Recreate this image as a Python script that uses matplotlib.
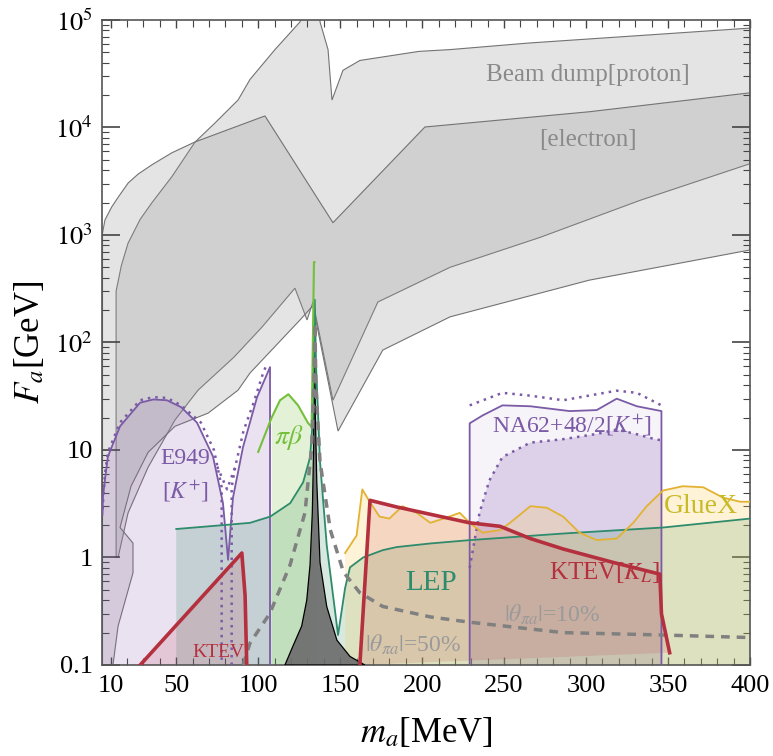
import matplotlib
matplotlib.use("Agg")
import matplotlib.pyplot as plt
from matplotlib.ticker import FixedLocator, MultipleLocator, LogLocator, NullFormatter

plt.rcParams['font.family'] = ['Liberation Serif', 'DejaVu Serif']
plt.rcParams['mathtext.fontset'] = 'stix'

# ---------------------------------------------------------------
# data  (m_a in MeV, F_a in GeV)

# beam dump, proton: upper and lower edges
bdp_up_m = [13.3, 16.5, 20.6, 28, 35.2, 47.4, 61.4, 73.6, 87.7, 95, 110.2, 125.5, 129, 137, 137.7, 142.6, 145, 151.7, 162, 198, 217, 265, 400]
bdp_up_F = [300, 520, 840, 1400, 2000, 3500, 7300, 11000, 18000, 28000, 53000, 96000, 140000, 140000, 96000, 53000, 18000, 34000, 42000, 51000, 53000, 61000, 84000]
bdp_lo_m = [13.3, 14.5, 20.6, 32.8, 49.2, 63.3, 85.2, 102.3, 122.4, 129.8, 133.4, 145.6, 173, 217, 272, 333, 400]
bdp_lo_F = [1.0, 1.0, 2.6, 6.9, 19, 36, 73, 139, 320, 162, 238, 29, 238, 500, 950, 2100, 4600]

# beam dump, electron: upper and lower edges
bde_up_m = [5, 6.5, 10.6, 14.6, 20.7, 26.8, 35, 47.2, 61.4, 104.1, 145.6, 201.7, 302, 400]
bde_up_F = [1040, 1380, 1820, 2250, 3050, 3690, 4480, 5800, 7330, 12800, 1300, 10100, 14000, 21000]
bde_lo_m = [5, 11.4, 14.5, 23.6, 23.6, 15.7, 22.4, 32.8, 49.2, 69.4, 87.7, 95, 125.5, 133.4, 148.7, 176, 217, 302, 400]
bde_lo_F = [0.1, 0.1, 0.23, 0.72, 1.36, 1.9, 4.6, 9.5, 16.6, 22, 36, 52, 162, 220, 15, 85, 173, 380, 725]

# E949 [K+]
e949_m = [5.0, 5.3, 6.7, 8.3, 15.7, 27.9, 36, 44.3, 53, 62.6, 72.4, 78.5, 81.6, 84.6, 90.7, 99.3, 107.2]
e949_F = [2.5, 3.7, 5.6, 8.7, 16.6, 27.5, 29.5, 29, 25, 18, 8.7, 3.2, 0.95, 3.6, 10.6, 31, 59]
e949_dot1_m = [5.0, 6.5, 8.3, 15.7, 27.9, 36, 44.3, 53, 65, 73, 77.7, 77.7]
e949_dot1_F = [2.8, 6.0, 9.5, 18, 29, 31, 30.5, 26, 18, 10, 4.5, 0.1]
e949_dot2_m = [83.8, 83.8, 86, 91, 97, 103, 105.5]
e949_dot2_F = [0.1, 4.5, 7, 15, 27, 52, 64]
e949_dot3_m = [75, 81, 86]
e949_dot3_F = [7, 4.3, 7]

# pi beta
pib_m = [100, 108.2, 113.3, 118.4, 124.3, 130.4, 132.6, 134.0, 134.3]
pib_F = [9.6, 20, 29, 33, 26, 17.8, 16.4, 560, 560]

# LEP
lep_m = [50, 78.7, 95, 107.3, 119.5, 127.4, 131.6, 133.4, 134.5, 135.3, 137.7, 141.8, 148.7, 153, 156, 164, 176, 184.5, 205, 229, 286, 347, 400]
lep_F = [1.84, 2.0, 2.1, 2.4, 3.2, 5.0, 8.5, 20, 250, 60, 7.8, 1.3, 0.19, 0.52, 0.81, 1.0, 1.17, 1.25, 1.35, 1.45, 1.67, 1.9, 2.3]

# GlueX
glx_m = [153, 160, 163.5, 168, 174, 180, 188, 196.7, 205, 213, 223, 229, 237, 247.5, 253.6, 266, 276, 286, 296, 306.5, 318.7, 328.8, 337, 347, 359, 371.5, 383.6, 394, 400]
glx_F = [1.1, 1.6, 4.3, 3.3, 2.4, 2.3, 3.0, 2.6, 2.1, 2.3, 2.6, 2.1, 1.7, 1.8, 2.1, 3.0, 2.9, 2.4, 1.7, 1.45, 1.5, 2.1, 3.0, 4.2, 4.6, 4.5, 3.6, 3.3, 3.3]

# KTEV (low mass) and KTEV[K_L]
ktev_m = [28, 90, 92, 93]
ktev_F = [0.1, 1.1, 0.44, 0.1]
ktevl_m = [162, 168.2, 184.5, 229, 247.5, 266, 286, 316.5, 345, 346, 351]
ktevl_F = [0.1, 3.4, 2.95, 2.1, 1.95, 1.5, 1.2, 0.9, 0.7, 0.3, 0.13]

# NA62+48/2 [K+]
na62_m = [229, 229, 237, 249, 266, 290, 306.5, 318.7, 331, 346, 346]
na62_F = [0.1, 17.7, 21, 26, 25.5, 23, 23.5, 30, 25.5, 23, 0.1]
na62_up_m = [229, 249, 266, 286, 306.5, 318.7, 331, 346]
na62_up_F = [26, 34, 32, 29, 33, 35.6, 34, 26]
na62_lo_m = [229, 235, 241, 249, 266, 286, 306.5, 318.7, 331, 342, 346]
na62_lo_F = [0.8, 2.6, 5.2, 8.6, 11.7, 12.6, 14.1, 15.5, 14, 12.6, 12.3]

# pion pole (dark spike)
pi_m = [116.3, 121.2, 126.5, 129.6, 131.6, 133.0, 133.8, 134.3, 134.9, 135.7, 137.7, 141.8, 148, 156, 165]
pi_F = [0.1, 0.15, 0.23, 0.4, 0.85, 2.6, 10.6, 150, 20, 5.2, 0.9, 0.35, 0.17, 0.12, 0.1]

# |theta_pi a| dashed curve
tha_m = [90.7, 95, 107, 119.4, 128.5, 132.6, 134.0, 134.6, 135.2, 137.7, 144, 152, 162, 176, 205, 229, 286, 347, 400]
tha_F = [0.1, 0.16, 0.3, 0.85, 2.6, 10.6, 45, 150, 40, 7.8, 1.8, 0.73, 0.47, 0.35, 0.28, 0.25, 0.2, 0.19, 0.18]

x_ticks = [10, 50, 100, 150, 200, 250, 300, 350, 400]
y_ticks = [0.1, 1, 10, 100, 1000, 10000, 100000]
y_ticklabels = ["0.1", "1", "10", r"$10^2$", r"$10^3$", r"$10^4$", r"$10^5$"]

# ---------------------------------------------------------------
fig = plt.figure(figsize=(7.73, 7.56), dpi=100)
ax = fig.add_axes([0.1326, 0.1204, 0.8376, 0.8532])
ax.set_yscale('log')
ax.set_xlim(5, 400)
ax.set_ylim(0.1, 1e5)

gray_fc = (0.6, 0.6, 0.6, 0.26)
gray_ec = (0.45, 0.45, 0.45)

# beam dumps (two overlapping grey regions)
ax.fill(bdp_up_m + bdp_lo_m[::-1], bdp_up_F + bdp_lo_F[::-1],
        fc=gray_fc, ec=gray_ec, lw=0.8, zorder=1)
ax.fill(bde_up_m + bde_lo_m[::-1], bde_up_F + bde_lo_F[::-1],
        fc=gray_fc, ec=gray_ec, lw=0.8, zorder=1)

# E949
purple = '#7b5aa6'
ax.fill(e949_m + [e949_m[-1], e949_m[0]], e949_F + [0.1, 0.1],
        fc=(0.55, 0.35, 0.7, 0.18), ec='none', zorder=2)
ax.plot(e949_m + [e949_m[-1]], e949_F + [0.1], color=purple, lw=1.3, zorder=4)
for mm, ff in [(e949_dot1_m, e949_dot1_F), (e949_dot2_m, e949_dot2_F), (e949_dot3_m, e949_dot3_F)]:
    ax.plot(mm, ff, color=purple, lw=1.8, ls=(0, (1, 2)), zorder=4)

# NA62
ax.fill(na62_m, na62_F, fc=(0.55, 0.35, 0.7, 0.07), ec='none', zorder=2)
ax.fill(na62_lo_m + [na62_lo_m[-1], na62_lo_m[0]], na62_lo_F + [0.1, 0.1],
        fc=(0.5, 0.35, 0.7, 0.22), ec='none', zorder=2)
ax.plot(na62_m, na62_F, color=purple, lw=1.3, zorder=4)
ax.plot(na62_up_m, na62_up_F, color=purple, lw=1.8, ls=(0, (1, 2)), zorder=4)
ax.plot(na62_lo_m, na62_lo_F, color=purple, lw=1.8, ls=(0, (1, 2)), zorder=4)

# LEP
teal = '#2e8b6b'
ax.fill(lep_m + [lep_m[-1], lep_m[0]], lep_F + [0.1, 0.1],
        fc=(0.2, 0.55, 0.4, 0.2), ec='none', zorder=2)
ax.plot(lep_m, lep_F, color=teal, lw=1.3, zorder=4)

# pi beta
green = '#74bf3c'
ax.fill(pib_m[1:] + [pib_m[-1] + 0.3, pib_m[1]], pib_F[1:] + [0.1, 0.1],
        fc=(0.45, 0.75, 0.2, 0.2), ec='none', zorder=2)
ax.plot(pib_m, pib_F, color=green, lw=1.5, zorder=4)

# GlueX
gold = '#e3b232'
ax.fill(glx_m + [glx_m[-1], glx_m[0]], glx_F + [0.1, 0.1],
        fc=(1.0, 0.8, 0.3, 0.22), ec='none', zorder=2)
ax.plot(glx_m, glx_F, color=gold, lw=1.3, zorder=4)

# KTEV
red = '#b5303e'
ax.fill(ktev_m, ktev_F, fc=(0.75, 0.2, 0.25, 0.15), ec='none', zorder=2)
ax.plot(ktev_m, ktev_F, color=red, lw=2.6, zorder=5)
ax.fill(ktevl_m + [ktevl_m[0]], ktevl_F + [0.1], fc=(0.75, 0.2, 0.25, 0.15), ec='none', zorder=2)
ax.plot(ktevl_m, ktevl_F, color=red, lw=2.6, zorder=5)

# pion pole
ax.fill(pi_m, pi_F, fc=(0.42, 0.42, 0.42, 0.9), ec='black', lw=0.9, zorder=3)

# theta_pi a
ax.plot(tha_m, tha_F, color='#808080', lw=2.5, ls=(0, (2.5, 2)), zorder=4)

# labels
txt_gray = '#8a8a8a'
ax.text(301, 3.1e4, "Beam dump[proton]", color=txt_gray, fontsize=18, ha='center', va='center', zorder=6)
ax.text(301, 7.6e3, "[electron]", color=txt_gray, fontsize=18, ha='center', va='center', zorder=6)
ax.text(55.3, 8.4, "E949", color=purple, fontsize=17, ha='center', va='center', zorder=6)
ax.text(55.3, 4.1, r"[$K^{+}$]", color=purple, fontsize=17, ha='center', va='center', zorder=6)
ax.text(118.8, 13.2, r"$\pi\beta$", color=green, fontsize=20, ha='center', va='center', zorder=6)
ax.text(291.5, 17.1, r"NA62+48/2[$K^{+}$]", color=purple, fontsize=17, ha='center', va='center', zorder=6)
ax.text(370, 2.95, "GlueX", color='#c8bb2a', fontsize=20, ha='center', va='center', zorder=6)
ax.text(205.4, 0.58, "LEP", color=teal, fontsize=21, ha='center', va='center', zorder=6)
ax.text(311, 0.73, r"KTEV[$K_L$]", color=red, fontsize=18, ha='center', va='center', zorder=6)
ax.text(279, 0.29, r"$|\theta_{\pi a}|$=10%", color='#9a9a9a', fontsize=17, ha='center', va='center', zorder=6)
ax.text(194.5, 0.153, r"$|\theta_{\pi a}|$=50%", color='#9a9a9a', fontsize=17, ha='center', va='center', zorder=6)
ax.text(75.5, 0.13, "KTEV", color=red, fontsize=14, ha='center', va='center', zorder=6)

# axes styling
ax.xaxis.set_major_locator(FixedLocator(x_ticks))
ax.xaxis.set_minor_locator(MultipleLocator(10))
ax.set_xticklabels([str(t) for t in x_ticks])
ax.yaxis.set_major_locator(FixedLocator(y_ticks))
ax.set_yticklabels(y_ticklabels)
ax.yaxis.set_minor_locator(LogLocator(base=10, subs=range(2, 10)))
ax.yaxis.set_minor_formatter(NullFormatter())

ax.tick_params(which='both', direction='in', top=True, right=True, colors='#444444',
               labelcolor='black', labelsize=19)
ax.tick_params(axis='y', which='major', length=13, width=1.2, pad=7)
ax.tick_params(axis='y', which='minor', length=5, width=0.8)
ax.tick_params(axis='x', which='major', length=6, width=1.0, pad=7)
ax.tick_params(axis='x', which='minor', length=5, width=0.8)
for s in ax.spines.values():
    s.set_color('#555555')
    s.set_linewidth(1.2)

ax.set_xlabel(r"$m_a$[MeV]", fontsize=25, labelpad=14)
ax.set_ylabel(r"$F_a$[GeV]", fontsize=25, labelpad=6)

fig.savefig("out.png", dpi=100)
